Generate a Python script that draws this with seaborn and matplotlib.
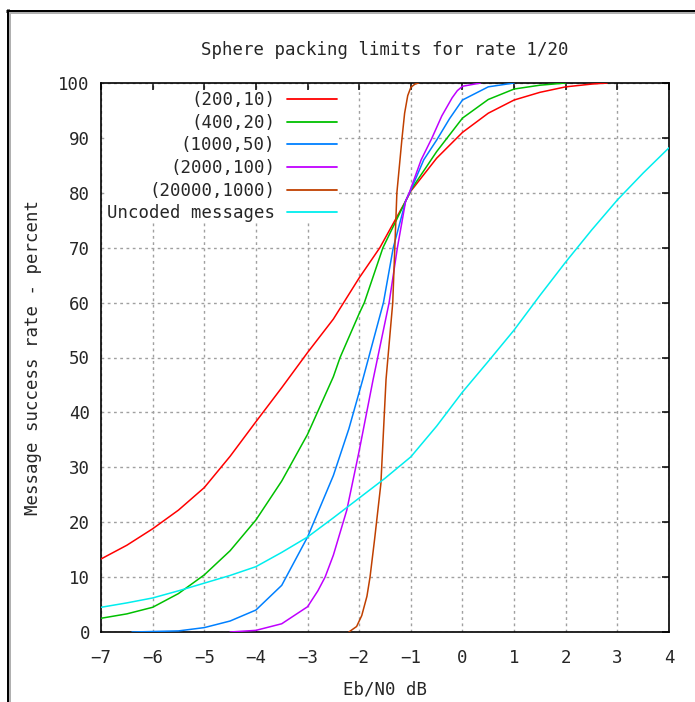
import numpy as np
import pandas as pd
import matplotlib
matplotlib.use("Agg")
import matplotlib.pyplot as plt
import seaborn as sns
from matplotlib.lines import Line2D

# ---- data ----
title = "Sphere packing limits for rate 1/20"
xlabel = "Eb/N0 dB"
ylabel = "Message success rate - percent"
series_names = ["(200,10)", "(400,20)", "(1000,50)", "(2000,100)", "(20000,1000)", "Uncoded messages"]
series_colors = ["#ff0000", "#00c000", "#0080ff", "#c000ff", "#c04000", "#00eeee"]

x_200 = [-7, -6.5, -6, -5.5, -5, -4.5, -4, -3.5, -3, -2.5, -2.3, -2, -1.6, -1.1, -1, -0.5, 0, 0.5, 1, 1.5, 2, 2.5, 2.8]
y_200 = [13.3, 15.8, 18.8, 22.2, 26.3, 32, 38.3, 44.5, 50.9, 57, 60, 64.5, 70, 78.5, 80.3, 86.3, 91, 94.5, 96.9, 98.3, 99.3, 99.8, 100]

x_400 = [-7, -6.5, -6, -5.5, -5, -4.5, -4, -3.5, -3, -2.5, -2.37, -2, -1.9, -1.54, -1.1, -1, -0.5, 0, 0.5, 1, 1.5, 2]
y_400 = [2.5, 3.3, 4.5, 7, 10.4, 14.8, 20.4, 27.5, 36, 46.5, 50, 58, 60, 70, 78.5, 80.5, 87.5, 93.6, 97, 98.9, 99.6, 100]

x_1000 = [-6.4, -5.5, -5, -4.5, -4, -3.5, -3, -2.5, -2.2, -1.93, -1.53, -1.34, -1.1, -1, -0.75, -0.5, -0.25, 0, 0.5, 1]
y_1000 = [0, 0.2, 0.8, 2, 4, 8.5, 17.3, 28.5, 37, 46, 60, 70, 78.5, 80.5, 86, 89.6, 93.5, 96.9, 99.3, 100]

x_2000 = [-4.5, -4, -3.5, -3, -2.8, -2.66, -2.5, -2.24, -2, -1.73, -1.42, -1.26, -1.1, -1.03, -0.8, -0.59, -0.4, -0.2, -0.1, 0, 0.35]
y_2000 = [0, 0.3, 1.5, 4.6, 7.5, 10, 14, 22.2, 33, 46, 60, 70, 78.5, 80, 86, 90, 94, 97.3, 98.6, 99.4, 100]

x_20000 = [-2.2, -2.05, -1.95, -1.85, -1.79, -1.7, -1.58, -1.48, -1.35, -1.31, -1.27, -1.17, -1.12, -1.06, -1.0, -0.92, -0.85]
y_20000 = [0, 1, 3, 6.5, 10, 17, 27, 46, 60, 70, 80, 90, 94.5, 97.7, 99.2, 99.8, 100]

x_unc = [-7, -6.5, -6, -5.5, -5, -4.5, -4, -3.5, -3, -2.5, -2, -1.5, -1, -0.5, 0, 0.5, 1, 1.5, 2, 2.5, 3, 3.5, 4]
y_unc = [4.5, 5.3, 6.2, 7.5, 8.9, 10.3, 11.9, 14.5, 17.3, 20.8, 24.4, 28, 31.9, 37.5, 43.7, 49.3, 55, 61.3, 67.4, 73.2, 78.7, 83.6, 88.2]

xticks = [-7, -6, -5, -4, -3, -2, -1, 0, 1, 2, 3, 4]
yticks = [0, 10, 20, 30, 40, 50, 60, 70, 80, 90, 100]

all_x = [x_200, x_400, x_1000, x_2000, x_20000, x_unc]
all_y = [y_200, y_400, y_1000, y_2000, y_20000, y_unc]
df = pd.concat(
    [pd.DataFrame({"x": xs, "y": ys, "series": name}) for xs, ys, name in zip(all_x, all_y, series_names)],
    ignore_index=True,
)

# ---- style ----
sns.set_style("white")
FONT = ["DejaVu Sans Mono", "DejaVu Sans"]
plt.rcParams["font.family"] = FONT
FS = 12.5

fig = plt.figure(figsize=(6.95, 7.02), dpi=100)
ax = fig.add_axes([101 / 695, 1 - 632 / 702, 568 / 695, 549 / 702])

sns.lineplot(data=df, x="x", y="y", hue="series", hue_order=series_names,
             palette=series_colors, estimator=None, sort=False, linewidth=1.1,
             ax=ax, legend=False, zorder=3)

ax.set_xlim(-7, 4)
ax.set_ylim(0, 100)
ax.set_xticks(xticks)
ax.set_yticks(yticks)
ax.set_xticklabels([("\u2212" + str(-t)) if t < 0 else str(t) for t in xticks], fontsize=FS)
ax.set_yticklabels([str(t) for t in yticks], fontsize=FS)
ax.tick_params(direction="in", top=True, right=True, length=5, width=1.1, color="black")
ax.tick_params(axis="y", pad=8)
ax.tick_params(axis="x", pad=12)
ax.grid(True, color="#a0a0a0", linestyle=(0, (2, 2.5)), linewidth=1)
ax.set_axisbelow(True)
for s in ax.spines.values():
    s.set_color("black")
    s.set_linewidth(1.2)

ax.set_title(title, fontsize=FS, pad=20)
ax.set_xlabel(xlabel, fontsize=FS)
ax.set_ylabel(ylabel, fontsize=FS)
ax.xaxis.set_label_coords(0.5, -0.089)
ax.yaxis.set_label_coords(-0.104, 0.5)

handles = [Line2D([], [], color=c, linewidth=1.3) for c in series_colors]
leg = ax.legend(handles, series_names, loc="upper right", bbox_to_anchor=(0.4155, 0.985),
                borderaxespad=0, markerfirst=False, frameon=True, facecolor="white",
                edgecolor="none", framealpha=1, fancybox=False, fontsize=FS,
                handlelength=2.9, handletextpad=0.65, labelspacing=0.265, borderpad=0.0)
leg.set_zorder(5)

# figure frame (black outer + grey inner edge)
W, H = 695, 702
def fl(x0, y0, x1, y1, color, lw_px):
    fig.add_artist(Line2D([x0 / W, x1 / W], [1 - y0 / H, 1 - y1 / H], color=color,
                          linewidth=lw_px * 72 / 100, transform=fig.transFigure, solid_capstyle="butt"))
fl(6, 10.5, W, 10.5, "black", 3)
fl(7.5, 9, 7.5, H, "black", 3)
fl(9, 13, W, 13, "#b0b0b0", 2)
fl(10, 12, 10, H, "#b0b0b0", 2)

fig.savefig("out.png", dpi=100)
